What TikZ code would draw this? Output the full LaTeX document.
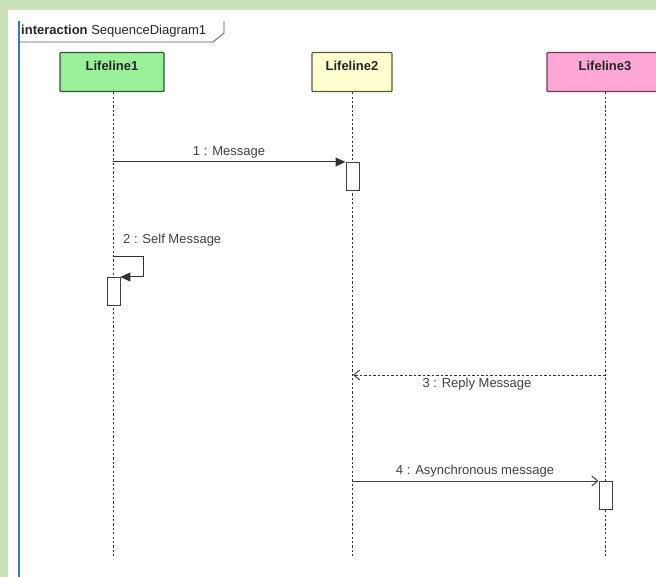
\documentclass[tikz,border=0pt]{standalone}
\usepackage{fontspec}
\setmainfont{Liberation Sans}
\usetikzlibrary{arrows.meta}
\begin{document}
\begin{tikzpicture}[
    x=1pt, y=-1pt,
    font=\fontsize{13}{15}\selectfont,
    lifeline/.style={draw=#1, line width=1.2pt, rounded corners=0.8pt, minimum height=39pt, inner sep=0pt, font=\fontsize{13}{15}\selectfont\bfseries, text=black!85, anchor=north},
    activation/.style={draw=black!75, fill=white, line width=0.8pt, minimum width=13pt, minimum height=28pt, inner sep=0pt, anchor=north west},
    lifeline line/.style={draw=black!80, line width=0.8pt, dash pattern=on 2.2pt off 2.2pt},
    call/.style={draw=black!80, line width=1pt, -{Triangle[length=10pt, width=9pt]}},
    async/.style={draw=black!75, line width=1pt, -{Straight Barb[length=6pt, width=10pt]}},
    reply/.style={draw=black!80, line width=0.9pt, dash pattern=on 2.5pt off 2pt, -{Straight Barb[length=6pt, width=10pt]}},
    msglabel/.style={text=black!75, inner sep=1pt}
]
\definecolor{pagegreen}{RGB}{201,226,184}
\definecolor{framegray}{RGB}{90,90,90}
\definecolor{frameblue}{RGB}{60,120,200}
\definecolor{l1fill}{RGB}{153,240,153}
\definecolor{l1draw}{RGB}{55,85,55}
\definecolor{l2fill}{RGB}{255,255,208}
\definecolor{l2draw}{RGB}{95,90,60}
\definecolor{l3fill}{RGB}{255,168,214}
\definecolor{l3draw}{RGB}{115,55,90}

\useasboundingbox (0,0) rectangle (656,577);
\clip (0,0) rectangle (656,577);
\fill[pagegreen] (0,0) rectangle (656,577);
\fill[white] (8,10) rectangle (660,580);

% frame
\draw[frameblue, line width=1.6pt] (19,21) -- (19,580);
\draw[framegray, line width=0.8pt] (19,42) -- (213,42) -- (224,33) -- (224,21);
\node[anchor=west, inner sep=0pt, text=black!85] (frame) at (21,31) {\textbf{interaction} SequenceDiagram1};

% lifelines
\node[lifeline=l1draw, fill=l1fill, minimum width=104pt] (ll1) at (112,52) {\raisebox{12pt}{Lifeline1}};
\node[lifeline=l2draw, fill=l2fill, minimum width=80pt] (ll2) at (352,52) {\raisebox{12pt}{Lifeline2}};
\node[lifeline=l3draw, fill=l3fill, minimum width=116pt] (ll3) at (605,52) {\raisebox{12pt}{Lifeline3}};
\coordinate (end1) at (113,556);
\coordinate (end2) at (352,556);
\coordinate (end3) at (605,556);
\draw[lifeline line] (ll1.south -| end1) -- (end1);
\draw[lifeline line] (ll2.south -| end2) -- (end2);
\draw[lifeline line] (ll3.south -| end3) -- (end3);

% activations
\node[activation] (act2) at (345.5,162) {};
\node[activation] (act1) at (106.5,277) {};
\node[activation] (act3) at (598.5,481) {};

% 1 : Message
\coordinate (m1) at (113,162);
\draw[call] (m1) -- (act2.north west);
\node[msglabel] (lab1) at (229,152) {1 : Message};

% 2 : Self Message
\coordinate (m2) at (113,257);
\draw[call] (m2) -- ++(30,0) |- (act1.north east);
\node[msglabel, anchor=west] (lab2) at (122,240) {2 : Self Message};

% 3 : Reply Message
\coordinate (r3) at (605,375);
\coordinate (r2) at (353,375);
\draw[reply] (r3) -- (r2);
\node[msglabel] (lab3) at (477,384) {3 : Reply Message};

% 4 : Asynchronous message
\coordinate (m4) at (352,481);
\draw[async] (m4) -- (act3.north west);
\node[msglabel] (lab4) at (475,471) {4 : Asynchronous message};
\end{tikzpicture}
\end{document}
